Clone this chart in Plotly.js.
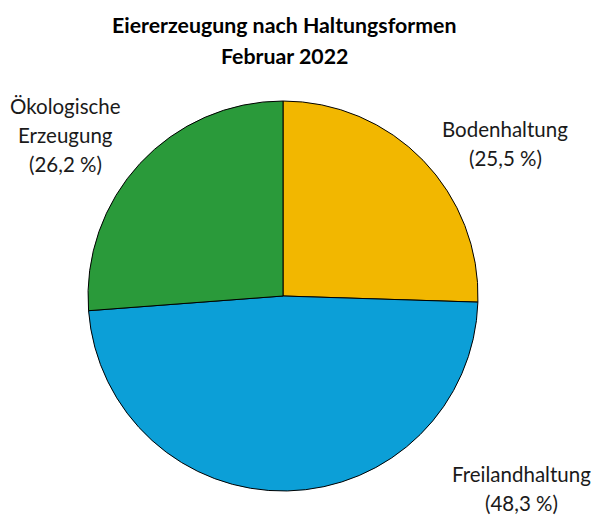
<!DOCTYPE html>
<html>
<head>
<meta charset="utf-8">
<script src="https://cdn.plot.ly/plotly-3.0.1.min.js"></script>
<style>html,body{margin:0;padding:0;background:#fff;}#chart{width:596px;height:516px;}</style>
</head>
<body>
<div id="chart"></div>
<script>
const categories = ["Bodenhaltung", "Freilandhaltung", "Ökologische Erzeugung"];
const labelLines = [["Bodenhaltung"], ["Freilandhaltung"], ["Ökologische", "Erzeugung"]];
const shares = [25.5, 48.3, 26.2];
const colors = ["#F2B700", "#0C9FD7", "#2A9A3A"];
const titleLines = ["Eiererzeugung nach Haltungsformen", "Februar 2022"];

const W = 596, H = 516;
// [centre x, first line y, line spacing] in pixels
const labelPos = [[505, 129, 28.5], [521, 474, 29], [65, 106, 29]];
const titlePos = [284, 25, 31.5];

const fmt = v => v.toFixed(1).replace(".", ",") + " %";

const annotations = [];
categories.forEach((c, i) => {
  const lines = labelLines[i].concat(["(" + fmt(shares[i]) + ")"]);
  lines.forEach((t, k) => {
    annotations.push({
      text: t,
      xref: "paper", yref: "paper",
      x: labelPos[i][0] / W, y: 1 - (labelPos[i][1] + k * labelPos[i][2]) / H,
      xanchor: "center", yanchor: "middle",
      showarrow: false,
      font: {family: "Lato, sans-serif", size: 20.5, color: "#1a1a1a"}
    });
  });
});
titleLines.forEach((t, k) => {
  annotations.push({
    text: "<b>" + t + "</b>",
    xref: "paper", yref: "paper",
    x: titlePos[0] / W, y: 1 - (titlePos[1] + k * titlePos[2]) / H,
    xanchor: "center", yanchor: "middle",
    showarrow: false,
    font: {family: "Lato, sans-serif", size: 21.3, color: "#000"}
  });
});

const data = [{
  type: "pie",
  labels: categories,
  values: shares,
  sort: false,
  direction: "clockwise",
  rotation: 0,
  textinfo: "none",
  hoverinfo: "label+percent",
  marker: {colors: colors, line: {color: "#000", width: 1}},
  domain: {x: [88 / W, 478 / W], y: [1 - 491 / H, 1 - 101 / H]}
}];

const layout = {
  width: W, height: H,
  margin: {l: 0, r: 0, t: 0, b: 0},
  showlegend: false,
  paper_bgcolor: "#fff",
  annotations: annotations
};

Plotly.newPlot("chart", data, layout, {displayModeBar: false, staticPlot: true});
</script>
</body>
</html>
